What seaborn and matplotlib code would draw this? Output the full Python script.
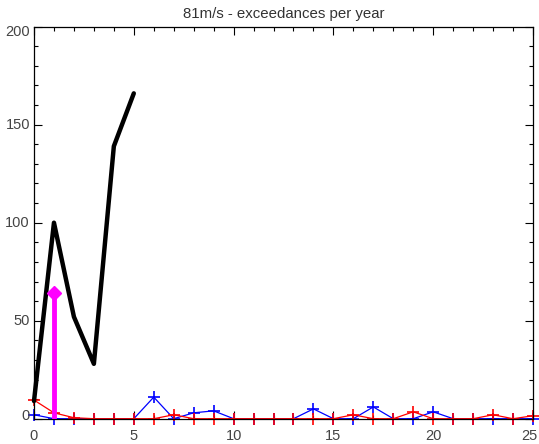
import numpy as np
import pandas as pd
import matplotlib
matplotlib.use("Agg")
import matplotlib.pyplot as plt
import matplotlib.transforms as mtransforms
import seaborn as sns
from matplotlib.ticker import MultipleLocator, NullFormatter

sns.set_style("white")
plt.rcParams['font.family'] = ['Liberation Sans', 'DejaVu Sans']

# Annual exceedance counts
black_x = [0, 1, 2, 3, 4, 5]
black_y = [9, 100, 52, 28, 139, 166]

years = list(range(0, 26))
blue_y = [2, 0, 0, 0, 0, 0, 11, 0, 3, 4, 0, 0, 0, 0, 5, 0, 0, 6, 0, 0, 3.5, 0, 0, 0, 0, 0]
red_y = [9.5, 3, 0.5, 0, 0, 0, 0, 2, 0, 0, 0, 0, 0, 0, 0, 0, 2, 0, 0, 3.5, 0, 0, 0, 2, 0, 1.5]

stem_x = [1]
stem_y = [64]

x_ticks = [0, 5, 10, 15, 20, 25]
y_ticks = [0, 50, 100, 150, 200]

title = "81m/s - exceedances per year"

fig = plt.figure(figsize=(5.39, 4.44), dpi=100)
ax = fig.add_axes([34 / 539, 1 - 418.7 / 444, 499 / 539, 392 / 444])

df_blue = pd.DataFrame({"x": years, "y": blue_y})
df_red = pd.DataFrame({"x": years, "y": red_y})
df_black = pd.DataFrame({"x": black_x, "y": black_y})

sns.lineplot(data=df_blue, x="x", y="y", ax=ax, color="#0000ff", lw=0.9,
             marker="+", markersize=9, mew=1.2, mec="#0000ff", clip_on=False)
sns.lineplot(data=df_red, x="x", y="y", ax=ax, color="#ff0000", lw=0.9,
             marker="+", markersize=9, mew=1.2, mec="#ff0000", clip_on=False)
sns.lineplot(data=df_black, x="x", y="y", ax=ax, color="black", lw=3.2,
             clip_on=False)

for sx, sy in zip(stem_x, stem_y):
    ax.vlines(sx, 0, sy, color="#ff00ff", lw=3.5, zorder=5)
ax.plot(stem_x, stem_y, marker="D", color="#ff00ff", markersize=7, ls="none", zorder=6)

ax.set_xlim(0, 25)
ax.set_ylim(0, 200)
ax.set_xlabel("")
ax.set_ylabel("")
ax.set_title(title, fontsize=10.8, color="#333333", pad=6)

ax.xaxis.set_major_locator(MultipleLocator(5))
ax.xaxis.set_minor_locator(MultipleLocator(1))
ax.yaxis.set_major_locator(MultipleLocator(50))
ax.yaxis.set_minor_locator(MultipleLocator(10))
ax.xaxis.set_major_formatter(NullFormatter())
ax.yaxis.set_major_formatter(NullFormatter())
ax.tick_params(which="both", direction="in", top=True, right=True,
               bottom=True, left=True, color="black")
ax.tick_params(which="major", length=5.5, width=0.8)
ax.tick_params(which="minor", length=3, width=0.8)
for sp in ax.spines.values():
    sp.set_color("black")
    sp.set_linewidth(0.9)

# Tick labels, nudged so the edge ones stay inside the canvas
lab_kw = dict(fontsize=10.5, color="#444444")
xt = ax.get_xaxis_transform()
for v in x_ticks:
    dx = -4 if v == x_ticks[-1] else 0
    tr = xt + mtransforms.ScaledTranslation(dx / 100, -10 / 100, fig.dpi_scale_trans)
    ax.text(v, 0, str(v), transform=tr, ha="center", va="top", **lab_kw)
yt = ax.get_yaxis_transform()
for v in y_ticks:
    dy = -5 if v == y_ticks[-1] else (3 if v == y_ticks[0] else 0)
    tr = yt + mtransforms.ScaledTranslation(-4 / 100, dy / 100, fig.dpi_scale_trans)
    ax.text(0, v, str(v), transform=tr, ha="right", va="center", **lab_kw)

fig.savefig("out.png", dpi=100)
